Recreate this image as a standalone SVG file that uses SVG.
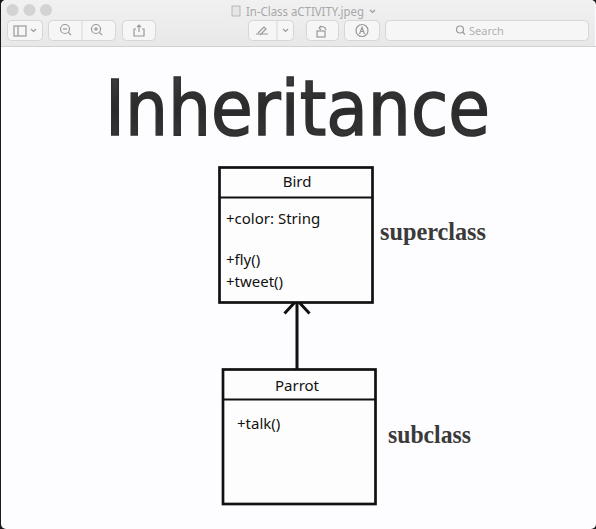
<svg xmlns="http://www.w3.org/2000/svg" width="596" height="529" viewBox="0 0 596 529">
<defs>
<linearGradient id="chrome" x1="0" y1="0" x2="0" y2="1">
<stop offset="0" stop-color="#f2f1f2"/>
<stop offset="1" stop-color="#e9e8e9"/>
</linearGradient>
<linearGradient id="ttl" x1="0" y1="0" x2="0" y2="1">
<stop offset="0" stop-color="#444"/>
<stop offset="0.5" stop-color="#2a2a2a"/>
<stop offset="1" stop-color="#3c3c3c"/>
</linearGradient>
</defs>
<style>
.btn{fill:#f6f6f6;stroke:#d6d6d6;stroke-width:1}
.ico{fill:none;stroke:#9a9a9a;stroke-width:1.2}
.box{fill:#fefdfe;stroke:#111;stroke-width:2.7}
.txt{font-family:"Noto Sans","Open Sans",sans-serif;font-size:15px;fill:#111}
.lbl{font-family:"Liberation Serif",serif;font-weight:bold;fill:#3a3a3a}
</style>
<rect x="0" y="0" width="596" height="529" fill="#1a1a1a"/>
<rect x="1" y="0" width="595" height="529" rx="5" fill="#fdfcfe"/>
<path d="M1,46 V5 a5,5 0 0 1 5,-5 H590 a5,5 0 0 1 5,5 V46 Z" fill="url(#chrome)"/>
<line x1="1" y1="46.5" x2="596" y2="46.5" stroke="#d2d2d2"/>
<g id="traffic">
<circle cx="12.5" cy="10" r="6" fill="#d4d3d4"/>
<circle cx="29.5" cy="10" r="6" fill="#d4d3d4"/>
<circle cx="46" cy="10" r="6" fill="#d4d3d4"/>
</g>
<g id="wintitle">
<rect x="232" y="6" width="8" height="10" fill="#e6e6e6" stroke="#aaa" stroke-width="0.8"/>
<text x="246" y="15.5" font-family="'Noto Sans',sans-serif" font-size="12" fill="#a8a8a8" textLength="118" lengthAdjust="spacingAndGlyphs">In-Class aCTIVITY.jpeg</text>
<path d="M370,10 l2.5,2.5 l2.5,-2.5" class="ico"/>
</g>
<g id="toolbar">
<rect x="7.5" y="20.5" width="35" height="20" rx="4" class="btn"/>
<rect x="14" y="26" width="12" height="10" class="ico"/>
<line x1="18" y1="26" x2="18" y2="36" class="ico"/>
<path d="M31,29 l2.5,2.5 l2.5,-2.5" class="ico"/>
<rect x="48.5" y="20.5" width="67" height="20" rx="4" class="btn"/>
<line x1="82" y1="21" x2="82" y2="40" stroke="#d6d6d6"/>
<circle cx="65" cy="29" r="4.5" class="ico"/>
<line x1="63" y1="29" x2="67" y2="29" class="ico"/>
<line x1="68.3" y1="32.3" x2="71" y2="35" class="ico"/>
<circle cx="96" cy="29" r="4.5" class="ico"/>
<line x1="94" y1="29" x2="98" y2="29" class="ico"/>
<line x1="96" y1="27" x2="96" y2="31" class="ico"/>
<line x1="99.3" y1="32.3" x2="102" y2="35" class="ico"/>
<rect x="122.5" y="20.5" width="33" height="20" rx="4" class="btn"/>
<path d="M136,29 h-2 v7 h10 v-7 h-2 M139,25 v7 M137,27 l2,-2 l2,2" class="ico"/>
<rect x="248.5" y="20.5" width="45" height="20" rx="4" class="btn"/>
<line x1="277" y1="21" x2="277" y2="40" stroke="#d6d6d6"/>
<path d="M256,34 h12 M258,33 l6,-6 l2,2 l-6,6" class="ico"/>
<path d="M283,29 l2.5,2.5 l2.5,-2.5" class="ico"/>
<rect x="306.5" y="20.5" width="32" height="20" rx="4" class="btn"/>
<rect x="317" y="31" width="8" height="6" class="ico"/>
<path d="M319,28 a4,4 0 0 1 7,2 M319,28 l2,-2 M319,28 l2,2" class="ico"/>
<rect x="344.5" y="20.5" width="35" height="20" rx="4" class="btn"/>
<circle cx="362" cy="30.5" r="6" class="ico"/>
<path d="M359.5,34 l2.5,-6.5 l2.5,6.5 M360.5,31.5 h3" class="ico"/>
<rect x="385.5" y="20.5" width="203" height="20" rx="4" class="btn"/>
<circle cx="460" cy="29.5" r="3.5" class="ico"/>
<line x1="462.5" y1="32" x2="465" y2="34.5" class="ico"/>
<text x="469" y="35" font-family="'Noto Sans',sans-serif" font-size="11" fill="#b0b0b0">Search</text>
</g>
<text x="105" y="135" font-family="'DejaVu Sans',sans-serif" font-size="76" fill="url(#ttl)" stroke="#2e2e2e" stroke-width="1.5" textLength="385" lengthAdjust="spacingAndGlyphs">Inheritance</text>
<g id="connectors">
<line x1="297" y1="369" x2="297" y2="301" stroke="#111" stroke-width="3"/>
<path d="M284.5,313.5 L297,300 L309.5,313.5" fill="none" stroke="#111" stroke-width="3" stroke-linejoin="miter"/>
</g>
<g id="bird">
<rect x="219.5" y="167.5" width="153" height="135" class="box"/>
<line x1="219.5" y1="197.5" x2="372.5" y2="197.5" stroke="#111" stroke-width="2"/>
<text x="297" y="187" text-anchor="middle" class="txt">Bird</text>
<text x="226" y="224" class="txt">+color: String</text>
<text x="226" y="265" class="txt">+fly()</text>
<text x="226" y="287" class="txt">+tweet()</text>
</g>
<g id="parrot">
<rect x="223" y="369.5" width="152.5" height="134.5" class="box"/>
<line x1="223" y1="399.5" x2="375.5" y2="399.5" stroke="#111" stroke-width="2"/>
<text x="297" y="391" text-anchor="middle" class="txt">Parrot</text>
<text x="237" y="429" class="txt">+talk()</text>
</g>
<text x="380" y="240" class="lbl" font-size="26" textLength="106" lengthAdjust="spacingAndGlyphs">superclass</text>
<text x="388" y="443" class="lbl" font-size="26" textLength="83" lengthAdjust="spacingAndGlyphs">subclass</text>
</svg>
